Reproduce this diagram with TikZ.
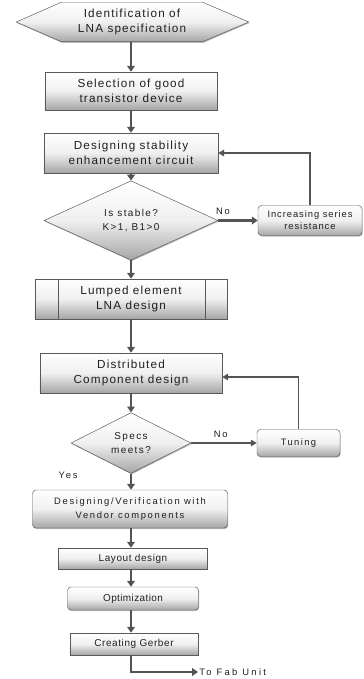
\documentclass[tikz,border=0pt]{standalone}
\usepackage{fontspec}
\setmainfont{Liberation Sans}[LetterSpace=10]
\definecolor{edgegray}{gray}{0.35}
\definecolor{linegray}{gray}{0.33}
\definecolor{textgray}{gray}{0.12}
\usetikzlibrary{shapes.geometric, arrows.meta, positioning, shadows, backgrounds}
\tikzset{every picture/.style={font=\fontsize{10}{13}\selectfont}}

\begin{document}
\begin{tikzpicture}[
  x=0.03cm, y=-0.03cm,
  text=textgray,
  shaded/.style={draw=edgegray, thin, top color=white, bottom color=gray!70, middle color=gray!12,
    drop shadow={shadow xshift=0.6pt, shadow yshift=-0.9pt, fill=gray!55, opacity=1}},
  procbox/.style={shaded, align=center, inner sep=0pt},
  roundbox/.style={procbox, rounded corners=3pt},
  decision/.style={shaded, diamond, align=center, inner sep=0pt, font=\fontsize{8.5}{12}\selectfont\addfontfeature{LetterSpace=14}},
  hexbox/.style={align=center, inner sep=0pt, minimum width=4.23cm, minimum height=1.17cm},
  smalltext/.style={font=\fontsize{8}{10}\selectfont\addfontfeature{LetterSpace=20}},
  flow/.style={-{Triangle[width=6.5pt,length=5pt]}, line width=1.9pt, draw=linegray},
  back/.style={-{Triangle[width=5.5pt,length=5pt]}, line width=1.1pt, draw=linegray}
]
  \useasboundingbox (0,0) rectangle (363,679);

  % main column
  \node[hexbox] (spec) at (132,22) {Identification of\\LNA specification};
  \begin{scope}[on background layer]
    \path[shaded] (spec.north west) -- (spec.north east) -- ([xshift=1.38cm]spec.east)
      -- (spec.south east) -- (spec.south west) -- ([xshift=-1.35cm]spec.west) -- cycle;
  \end{scope}
  \node[procbox, minimum width=5.16cm, minimum height=1.14cm] (select) at (131,91) {Selection of good\\transistor device};
  \node[procbox, minimum width=5.22cm, minimum height=1.2cm] (stab) at (131,153) {Designing stability\\enhancement circuit};
  \node[decision, minimum width=5.22cm, minimum height=1.83cm] (stable) at (131,220.5) {Is stable?\\K>1, B1>0};
  \node[roundbox, minimum width=3.12cm, minimum height=0.9cm, font=\fontsize{8}{10}\selectfont] (series) at (310,220.5) {Increasing series\\resistance};
  \node[procbox, minimum width=5.76cm, minimum height=1.2cm] (lumped) at (131,299) {Lumped element\\LNA design};
  \draw[edgegray] ([xshift=0.69cm]lumped.north west) -- ([xshift=0.69cm]lumped.south west);
  \draw[edgegray] ([xshift=-0.66cm]lumped.north east) -- ([xshift=-0.66cm]lumped.south east);
  \node[procbox, minimum width=5.46cm, minimum height=1.2cm] (distr) at (131,373) {Distributed\\Component design};
  \node[decision, minimum width=3.6cm, minimum height=1.74cm] (meets) at (131,443) {Specs\\meets?};
  \node[roundbox, minimum width=2.49cm, minimum height=0.81cm, font=\fontsize{8}{10}\selectfont\addfontfeature{LetterSpace=15}] (tuning) at (298.5,443) {Tuning};
  \node[roundbox, minimum width=5.85cm, minimum height=1.14cm, font=\fontsize{8}{11.5}\selectfont\addfontfeature{LetterSpace=18}] (vendor) at (130,509) {Designing/Verification with\\Vendor components};
  \node[procbox, minimum width=4.47cm, minimum height=0.63cm, font=\fontsize{8.5}{10}\selectfont\addfontfeature{LetterSpace=6}] (layout) at (133,558.5) {Layout design};
  \node[roundbox, minimum width=3.93cm, minimum height=0.69cm, font=\fontsize{8.5}{10}\selectfont\addfontfeature{LetterSpace=4}] (optim) at (133,598.5) {Optimization};
  \node[procbox, minimum width=3.84cm, minimum height=0.66cm, font=\fontsize{8.5}{10}\selectfont\addfontfeature{LetterSpace=6}] (gerber) at (134,644) {Creating Gerber};
  \node[anchor=west, inner sep=1pt, smalltext, font=\fontsize{8}{10}\selectfont\addfontfeature{LetterSpace=25}] (fab) at (198,672) {To Fab Unit};

  % connectors
  \draw[flow] (spec.south -| stab) -- (select.north -| stab);
  \draw[flow] (select.south -| stab) -- (stab.north);
  \draw[flow] (stab) -- (stable);
  \draw[flow] (stable) -- node[pos=0.12, above=1pt, smalltext] {No} (series);
  \draw[back] (series.north) |- (stab.east);
  \draw[flow] (stable) -- (lumped);
  \draw[flow] (lumped) -- (distr);
  \draw[flow] (distr) -- (meets);
  \draw[back] (meets) -- node[pos=0.45, above=1pt, smalltext] {No} (tuning);
  \draw[back] (tuning.north) |- ([yshift=-0.12cm]distr.east);
  \draw[flow] (meets) -- node[pos=0.12, left=1.45cm, smalltext] {Yes} (vendor.north -| meets);
  \draw[flow] (vendor.south -| meets) -- (layout.north -| meets);
  \draw[flow] (layout.south -| meets) -- (optim.north -| meets);
  \draw[flow] (optim.south -| meets) -- (gerber.north -| meets);
  \draw[flow] (gerber.south -| meets) |- (fab.west);
\end{tikzpicture}
\end{document}
